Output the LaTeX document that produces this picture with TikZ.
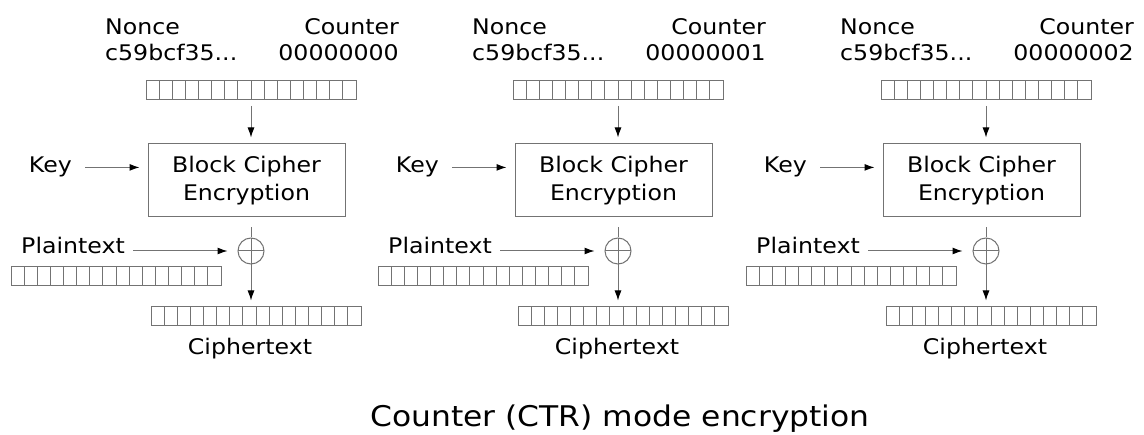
\documentclass[tikz,border=0pt]{standalone}
\usepackage{fontspec}
\setmainfont[FakeStretch=1.1]{DejaVu Sans}
\usetikzlibrary{arrows.meta}
\definecolor{linegray}{gray}{0.45}

\begin{document}
\begin{tikzpicture}[x=1pt, y=-1pt]
\tikzstyle{line} = [draw=linegray, line width=1pt, -{Latex[black, length=10pt, width=7pt]}]
\tikzstyle{label} = [inner sep=0pt, font=\fontsize{21.5}{28}\selectfont]
\tikzstyle{bits} = [draw=linegray, line width=1pt, inner sep=0pt,
  minimum width=210pt, minimum height=19pt,
  path picture={\foreach \k in {1,...,15}
    \draw[linegray, line width=1pt] ([xshift=\k*13.125pt]path picture bounding box.north west)
      -- ([xshift=\k*13.125pt]path picture bounding box.south west);}]
\tikzstyle{cipherbox} = [draw=linegray, line width=1pt, inner sep=0pt, align=center,
  minimum width=197pt, minimum height=73pt, font=\fontsize{21.5}{28}\selectfont]
\tikzstyle{xor} = [draw=linegray, line width=1pt, circle, inner sep=0pt, minimum size=26pt,
  path picture={\draw[linegray, line width=1pt]
    (path picture bounding box.west) -- (path picture bounding box.east)
    (path picture bounding box.north) -- (path picture bounding box.south);}]

\useasboundingbox (0,0) rectangle (1144,435);

\foreach \c/\n/\ctr in {251/1/00000000, 618/2/00000001, 986/3/00000002}{
  % counter block input
  \node[label, anchor=base west] (nonce\n) at (\c-146, 35) {Nonce};
  \node[label, anchor=base west] (nonceval\n) at (\c-146, 61) {c59bcf35...};
  \node[label, anchor=base east] (counter\n) at (\c+148, 35) {Counter};
  \node[label, anchor=base east] (counterval\n) at (\c+148, 61) {\ctr};
  \node[bits] (ctr\n) at (\c, 90) {};

  % cipher and key
  \node[cipherbox] (box\n) at (\c-4.5, 180.5) {Block Cipher\\Encryption};
  \node[label, anchor=base east] (key\n) at (\c-179, 173) {Key};

  % plaintext and xor
  \node[xor] (xor\n) at (\c, 251) {};
  \node[label, anchor=base east] (plain\n) at (\c-126, 254) {Plaintext};
  \node[bits] (pbar\n) at (\c-135, 276.5) {};

  % output
  \node[bits] (cbar\n) at (\c+5, 316.5) {};
  \node[label, anchor=base] (cipher\n) at (\c-1, 355) {Ciphertext};

  \draw[line, shorten <=6pt, shorten >=6pt] (ctr\n.south) -- (ctr\n |- box\n.north);
  \draw[line, shorten <=13pt, shorten >=8pt] (key\n.east) -- (key\n.east -| box\n.west);
  \draw[line, shorten <=8pt, shorten >=10pt] (plain\n.east |- xor\n) -- (xor\n.west);
  \draw[draw=linegray, line width=1pt, shorten <=10pt] (box\n.south -| xor\n) -- (xor\n.north);
  \draw[line, shorten >=6pt] (xor\n.south) -- (xor\n |- cbar\n.north);
}

\node[anchor=base, inner sep=0pt, font=\fontsize{28.5}{34}\selectfont] (title) at (620, 427)
  {Counter (CTR) mode encryption};

\end{tikzpicture}
\end{document}
